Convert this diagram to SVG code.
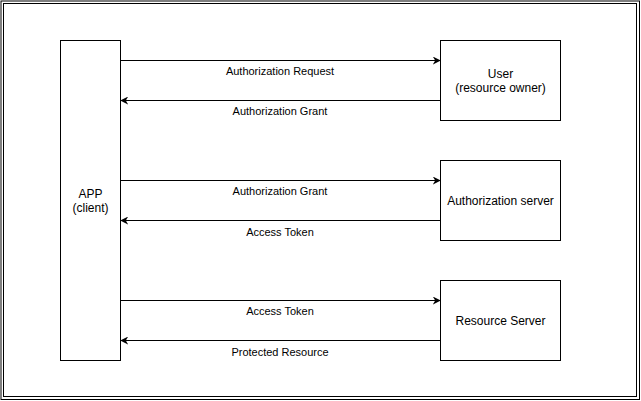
<svg xmlns="http://www.w3.org/2000/svg" width="641" height="401" viewBox="0 0 641 401">
<style>
.box{fill:#fff;stroke:#000;stroke-width:1}
.frame{fill:none;stroke:#000;stroke-width:1}
.ln{fill:none;stroke:#000;stroke-width:1}
.t{font-family:"Liberation Sans",Arial,sans-serif;font-size:12px;fill:#000;text-anchor:middle}
.l{font-family:"Liberation Sans",Arial,sans-serif;font-size:11px;fill:#000;text-anchor:middle}
</style>
<defs>
<marker id="ar" viewBox="0 0 10 10" refX="9" refY="5" markerWidth="8" markerHeight="8" markerUnits="userSpaceOnUse" orient="auto">
<path d="M0,0 L10,5 L0,10 L3,5 Z" fill="#000"/>
</marker>
</defs>
<rect width="641" height="401" fill="#fff"/>
<g id="frame">
<rect class="frame" x="1" y="1" width="638.5" height="398.5"/>
<rect class="frame" x="3.5" y="3.5" width="633" height="393"/>
</g>
<g id="connectors">
<line class="ln" x1="120.5" y1="60.5" x2="440" y2="60.5" marker-end="url(#ar)"/>
<line class="ln" x1="440.5" y1="100.5" x2="121" y2="100.5" marker-end="url(#ar)"/>
<line class="ln" x1="120.5" y1="180.5" x2="440" y2="180.5" marker-end="url(#ar)"/>
<line class="ln" x1="440.5" y1="220.5" x2="121" y2="220.5" marker-end="url(#ar)"/>
<line class="ln" x1="120.5" y1="300.5" x2="440" y2="300.5" marker-end="url(#ar)"/>
<line class="ln" x1="440.5" y1="340.5" x2="121" y2="340.5" marker-end="url(#ar)"/>
<text class="l" x="280" y="75">Authorization Request</text>
<text class="l" x="280" y="115">Authorization Grant</text>
<text class="l" x="280" y="195">Authorization Grant</text>
<text class="l" x="280" y="236">Access Token</text>
<text class="l" x="280" y="315">Access Token</text>
<text class="l" x="280" y="356">Protected Resource</text>
</g>
<g id="app">
<rect class="box" x="60.5" y="40.5" width="60" height="320"/>
<text class="t" x="90.5" y="198">APP</text>
<text class="t" x="90.5" y="212">(client)</text>
</g>
<g id="user">
<rect class="box" x="440.5" y="40.5" width="120" height="80"/>
<text class="t" x="500.5" y="78">User</text>
<text class="t" x="500.5" y="92">(resource owner)</text>
</g>
<g id="authserver">
<rect class="box" x="440.5" y="160.5" width="120" height="80"/>
<text class="t" x="500.5" y="205">Authorization server</text>
</g>
<g id="resourceserver">
<rect class="box" x="440.5" y="280.5" width="120" height="80"/>
<text class="t" x="500.5" y="325">Resource Server</text>
</g>
</svg>
